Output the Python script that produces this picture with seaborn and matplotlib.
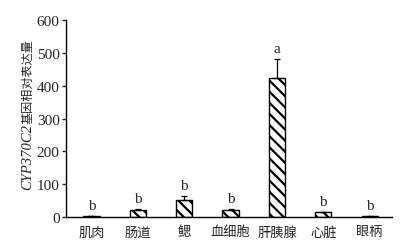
import matplotlib
matplotlib.use("Agg")
import matplotlib.pyplot as plt
import seaborn as sns
import pandas as pd

tissues = ["肌肉", "肠道", "鳃", "血细胞", "肝胰腺", "心脏", "眼柄"]
values = [3, 23, 51, 23, 424, 14, 3]
errors = [1, 3, 13, 2, 58, 2, 1]
letters = ["b", "b", "b", "b", "a", "b", "b"]
yticks = [0, 100, 200, 300, 400, 500, 600]
ylabel_gene = "CYP370C2"
ylabel_text = "基因相对表达量"

sns.set_style("ticks")
plt.rcParams['font.family'] = ['Liberation Serif', 'Noto Sans CJK SC']
plt.rcParams['hatch.linewidth'] = 1.6

df = pd.DataFrame({"tissue": tissues, "value": values})
fig = plt.figure(figsize=(4.02, 2.53), dpi=100)
ax = fig.add_axes([0.164, 0.138, 0.811, 0.779])
sns.barplot(data=df, x="tissue", y="value", ax=ax, color="white",
            edgecolor="black", linewidth=1.0, width=0.35, hatch="\\\\\\", errorbar=None)
ax.errorbar(range(len(tissues)), values, yerr=[[0]*len(errors), errors], fmt="none",
            ecolor="black", elinewidth=0.9, capsize=2, capthick=0.9)
for i, (v, e, l) in enumerate(zip(values, errors, letters)):
    ax.text(i, v + e + 12, l, ha="center", va="bottom", fontsize=11)
ax.set_xlim(-0.55, 6.48)
ax.set_ylim(0, 600)
ax.set_yticks(yticks)
ax.set_xlabel("")
ax.set_ylabel("")
ax.tick_params(axis="y", labelsize=11, direction="out", length=3, width=1, pad=1.5)
ax.tick_params(axis="x", labelsize=10, length=0, pad=6)
for lab in ax.get_xticklabels():
    lab.set_family(['Noto Sans CJK SC'])
    lab.set_fontsize(9.5)
sns.despine(ax=ax)
for s in ["left", "bottom"]:
    ax.spines[s].set_linewidth(1.0)
    ax.spines[s].set_color("black")

t1 = fig.text(0.07, 0.249, ylabel_gene, rotation=90, ha="center", va="bottom",
              fontsize=10.5, fontstyle="italic", family="Liberation Serif")
ax.annotate(ylabel_text, xy=(0.5, 1.0), xycoords=t1, rotation=90,
            ha="center", va="bottom", fontsize=8.7, family=["Noto Sans CJK SC"],
            annotation_clip=False)
fig.savefig("out.png", dpi=100)
